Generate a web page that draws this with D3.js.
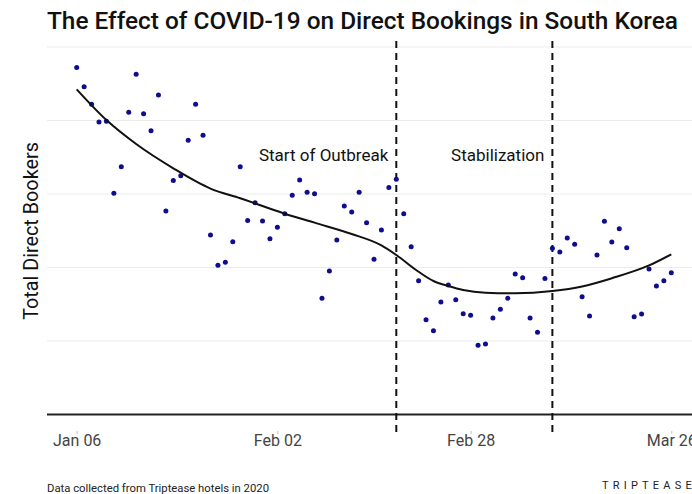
<!DOCTYPE html>
<html>
<head>
<meta charset="utf-8">
<script src="https://cdn.jsdelivr.net/npm/d3@7"></script>
<style>
  html, body { margin: 0; padding: 0; background: #fff; }
  svg { display: block; }
  text { font-family: Roboto, "Noto Sans", sans-serif; }
</style>
</head>
<body>
<svg id="chart" width="692" height="494"></svg>
<script>
// ---- Data ----
const startDate = "2020-01-06";
const bookers = [
  236, 223, 211, 199, 199.5, 150.5, 168.6, 205.6, 231.4, 204.6,
  193.1, 217.4, 138.4, 159.1, 162.5, 186.5, 211, 189.9, 122.1, 101.5,
  103.5, 117.6, 168.6, 132, 144, 131.6, 119.6, 127.4, 136.6, 149.1,
  159.5, 151.2, 150.2, 79, 97.6, 118.7, 141.8, 137.8, 151.2, 130.5,
  105.6, 125.5, 154.4, 160, 136.6, 114.1, 91, 64.5, 57, 76.5,
  88.1, 78.1, 68.6, 67.5, 47.1, 48, 65.6, 71.6, 79, 95.6,
  93.1, 65.6, 55.9, 92.5, 113.1, 110.5, 120.1, 115.8, 80.1, 67,
  108.5, 131.4, 117.4, 126.4, 113.5, 66.5, 68.4, 99, 87.4, 91,
  96.5
];
// smoothed trend (day offset from start, value)
const trendDays   = [0, 4, 8, 13, 18, 22, 28, 32, 37, 41, 43, 46, 48, 50, 52, 55, 59, 64, 68, 72, 77, 80];
const trendValues = [221.2, 200.3, 184, 167.5, 153.7, 147.1, 136.6, 130.5, 122.8, 115, 108.5, 97.1, 90.8, 87.4, 84.7, 82.9, 82.5, 84, 87.1, 92.7, 101.4, 109];
const tickDates  = ["2020-01-06", "2020-02-02", "2020-02-28", "2020-03-26"];
const tickLabels = ["Jan 06", "Feb 02", "Feb 28", "Mar 26"];
const eventDates  = ["2020-02-18", "2020-03-10"];
const eventLabels = ["Start of Outbreak", "Stabilization"];
const gridValues = [0, 50, 100, 150, 200, 250];

// ---- Helpers ----
const parse = d3.utcParse("%Y-%m-%d");
const day0 = parse(startDate);
const dayMs = 86400000;
const pts = bookers.map((v, i) => ({ date: new Date(+day0 + i * dayMs), value: v }));
const trend = trendDays.map((d, i) => ({ date: new Date(+day0 + d * dayMs), value: trendValues[i] }));

const svg = d3.select("#chart");
const W = 692, H = 494;

const x = d3.scaleUtc()
  .domain([day0, new Date(+day0 + 80 * dayMs)])
  .range([76.7, 671.3]);
const y = d3.scaleLinear().domain([0, 250]).range([414.5, 47]);

// gridlines
svg.append("g").selectAll("line").data(gridValues.slice(1)).join("line")
  .attr("x1", 47).attr("x2", W)
  .attr("y1", d => y(d)).attr("y2", d => y(d))
  .attr("stroke", "#ebebeb").attr("stroke-width", 1);

// x axis baseline
svg.append("line")
  .attr("x1", 47).attr("x2", W)
  .attr("y1", y(0)).attr("y2", y(0))
  .attr("stroke", "#222").attr("stroke-width", 2);

// x axis ticks + labels
const xAxis = d3.axisBottom(x)
  .tickValues(tickDates.map(parse))
  .tickFormat((d, i) => tickLabels[i])
  .tickSize(3).tickPadding(1);
const gx = svg.append("g").attr("transform", "translate(0,431)").call(xAxis);
gx.select(".domain").remove();
gx.selectAll(".tick line").attr("stroke", "#999").attr("stroke-width", 0.6);
gx.selectAll(".tick text")
  .attr("fill", "#444").attr("font-size", 16)
  .attr("font-family", "Roboto, sans-serif");

// dashed event lines
svg.append("g").selectAll("line").data(eventDates).join("line")
  .attr("x1", d => x(parse(d))).attr("x2", d => x(parse(d)))
  .attr("y1", 41).attr("y2", 432)
  .attr("stroke", "#111").attr("stroke-width", 2)
  .attr("stroke-dasharray", "7,5");

// annotations
svg.append("g").selectAll("text").data(eventDates).join("text")
  .attr("x", d => x(parse(d)) - 8)
  .attr("y", 161)
  .attr("text-anchor", "end")
  .attr("font-size", 17)
  .attr("fill", "#111")
  .text((d, i) => eventLabels[i]);

// points
svg.append("g").selectAll("circle").data(pts).join("circle")
  .attr("cx", d => x(d.date)).attr("cy", d => y(d.value))
  .attr("r", 2.5).attr("fill", "#0d0d8f");

// trend line
const line = d3.line().x(d => x(d.date)).y(d => y(d.value)).curve(d3.curveMonotoneX);
svg.append("path").datum(trend)
  .attr("d", line).attr("fill", "none")
  .attr("stroke", "#111").attr("stroke-width", 2);

// title
svg.append("text")
  .attr("x", 47).attr("y", 29)
  .attr("font-size", 24.4).attr("font-weight", 500).attr("fill", "#111")
  .text("The Effect of COVID-19 on Direct Bookings in South Korea");

// y label
svg.append("text")
  .attr("transform", "translate(38,231) rotate(-90)")
  .attr("text-anchor", "middle")
  .attr("font-size", 19.8).attr("fill", "#111")
  .text("Total Direct Bookers");

// footer
svg.append("text")
  .attr("x", 47).attr("y", 492)
  .attr("font-size", 11.3).attr("fill", "#222")
  .text("Data collected from Triptease hotels in 2020");
svg.append("text")
  .attr("x", 602).attr("y", 489)
  .attr("font-size", 11).attr("fill", "#222")
  .attr("letter-spacing", "4.2px")
  .text("TRIPTEASE");
</script>
</body>
</html>
